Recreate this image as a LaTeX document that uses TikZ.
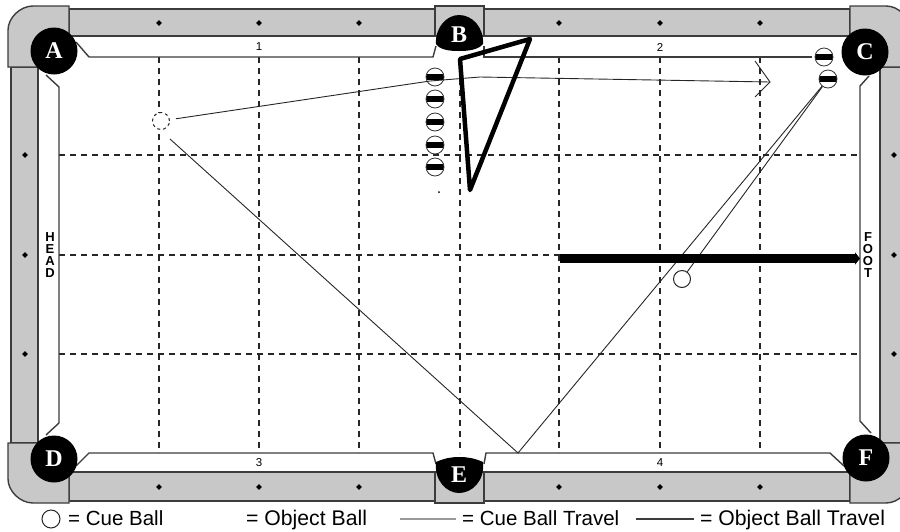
\documentclass[tikz,border=0pt]{standalone}
\usepackage{fontspec}
\setmainfont{Liberation Sans}
\newfontfamily\pocketfont{Liberation Serif}
\usetikzlibrary{arrows.meta,calc,shapes.geometric}
\definecolor{railgray}{HTML}{C8C8C8}
\definecolor{edgegray}{HTML}{3C3C3C}
\tikzset{
  rail/.style={draw=edgegray,line width=1.4pt,fill=railgray},
  cushion/.style={draw=edgegray,line width=1.4pt},
  gridline/.style={black!85,line width=1.25pt,dash pattern=on 6pt off 5pt},
  sight/.style={diamond,fill=black,inner sep=0pt,minimum size=6pt},
  pocket/.style={circle,fill=black,text=white,inner sep=0pt,minimum size=47pt,
    font=\pocketfont\bfseries\fontsize{24}{24}\selectfont},
  letter/.style={text=white,inner sep=0pt,
    font=\pocketfont\bfseries\fontsize{24}{24}\selectfont},
  railnumber/.style={inner sep=0pt,font=\fontsize{11.5}{11.5}\selectfont},
  railword/.style={inner sep=0pt,align=center,font=\bfseries\fontsize{13}{12}\selectfont},
  cueball/.style={circle,draw=black!85,line width=1pt,fill=white,inner sep=0pt,minimum size=17pt},
  objball/.style={circle,draw=black!80,line width=.8pt,fill=white,inner sep=0pt,minimum size=18pt,
    path picture={\fill[black] ($(path picture bounding box.center)+(-10,-2.6)$) rectangle
      ($(path picture bounding box.center)+(10,2.6)$);}},
  cuetravel/.style={black!85,line width=.9pt},
  legend/.style={anchor=base west,inner sep=0pt,font=\fontsize{20.5}{22}\selectfont},
  legendwide/.style={legend,font=\fontsize{21.2}{22}\selectfont},
}
\begin{document}
\begin{tikzpicture}[x=1pt,y=-1pt]
  \clip (0,0) rectangle (900,531);

  \draw[rail] (69,9) rectangle (850,36);
  \draw[rail] (69,472) rectangle (850,501);
  \draw[rail] (11,67) rectangle (38,443);
  \draw[rail] (880,67) rectangle (912,443);

  \draw[rail] (69,6) -- (33,6) .. controls (20,6) and (8,18) .. (8,30) -- (8,67)
    -- (38,67) -- (38,36) -- (69,36) -- cycle;
  \draw[rail] (850,6) -- (886,6) .. controls (899,6) and (910,18) .. (910,30) -- (910,67)
    -- (880,67) -- (880,36) -- (850,36) -- cycle;
  \draw[rail] (69,503) -- (33,503) .. controls (20,503) and (8,491) .. (8,479) -- (8,443)
    -- (38,443) -- (38,472) -- (69,472) -- cycle;
  \draw[rail] (850,503) -- (886,503) .. controls (899,503) and (910,491) .. (910,479) -- (910,443)
    -- (880,443) -- (880,472) -- (850,472) -- cycle;
  \draw[rail] (435,6) rectangle (484,36);
  \draw[rail] (435,472) rectangle (484,503);

  \foreach \x in {159,259,359,559,660,760} {
    \node[sight] (top\x) at (\x,23) {};
    \node[sight] (bot\x) at (\x,487) {};
  }
  \foreach \y in {155,255,354} {
    \node[sight] (left\y) at (25,\y) {};
    \node[sight] (right\y) at (894,\y) {};
  }

  \foreach \x in {159,259,359,460,559,660,760}
    \draw[gridline] (\x,57) -- (\x,453);
  \foreach \y in {155,255,354}
    \draw[gridline] (59,\y) -- (860,\y);

  \draw[cushion] (76,42) -- (89,57) -- (433,57) -- (436,46);
  \draw[cushion] (484,46) -- (484,57) -- (812,57);
  \draw[cushion] (46,75) -- (59,87) -- (59,423) -- (46,435);
  \draw[cushion] (76,466) -- (89,453) -- (433,453) -- (436,464);
  \draw[cushion] (484,464) -- (486,453) -- (830,453) -- (844,466);
  \draw[cushion] (869,76) -- (860,86) -- (860,421) -- (871,433);

  \node[pocket] (A) at (54,51) {A};
  \node[pocket] (C) at (865,52) {C};
  \node[pocket] (D) at (54,459) {D};
  \node[pocket] (F) at (866,458) {F};
  \fill[black] (436,44) .. controls (435,27) and (447,15) .. (459,15)
    .. controls (472,15) and (484,27) .. (483,44)
    .. controls (478,50) and (468,51) .. (459,51)
    .. controls (450,51) and (440,50) .. (436,44) -- cycle;
  \fill[black] (436,462) .. controls (445,458) and (452,457) .. (459,457)
    .. controls (467,457) and (474,458) .. (483,462)
    .. controls (485,481) and (472,493) .. (459,493)
    .. controls (447,493) and (434,481) .. (436,462) -- cycle;
  \node[letter] (B) at (459,35) {B};
  \node[letter] (E) at (459,475) {E};

  \node[railnumber] (one) at (259,47) {1};
  \node[railnumber] (two) at (660,47) {2};
  \node[railnumber] (three) at (259,463) {3};
  \node[railnumber] (four) at (660,463) {4};
  \node[railword] (head) at (50,255) {H\\E\\A\\D};
  \node[railword] (foot) at (868,255) {F\\O\\O\\T};

  \foreach \n/\y in {1/77,2/99,3/122,4/145,5/167}
    \node[objball] (rack\n) at (435,\y) {};
  \node[objball] (cornerA) at (824,57) {};
  \node[objball] (cornerB) at (828,79) {};
  \node[circle,fill=black,inner sep=0pt,minimum size=2pt] (speck) at (439,192) {};

  \node[cueball,dash pattern=on 3pt off 3pt] (cueA) at (161,121) {};
  \node[cueball] (cueB) at (682,279) {};

  \coordinate (bankA) at (518,453);
  \coordinate (passA) at (430,81);
  \coordinate (passB) at (480,77);
  \coordinate (tip) at (770,82);
  \coordinate (barbA) at (755,61);
  \coordinate (barbB) at (755,97);
  \draw[cuetravel,shorten <=6pt] (cueA) -- (passA) -- (passB) -- (tip);
  \draw[cuetravel] (barbA) -- (760,68) -- (tip) -- (barbB);
  \draw[cuetravel] (170,139) -- (bankA) -- (cornerB);
  \draw[cuetravel] (cueB) -- (cornerB);

  \coordinate (triA) at (530,39);
  \coordinate (triB) at (460,59);
  \coordinate (triC) at (470,190);
  \draw[black,line width=4.5pt,line join=round] (triA) -- (triB) -- (triC) -- cycle;

  \coordinate (pathStart) at (560,258.5);
  \coordinate (pathEnd) at (860,258.5);
  \draw[-{Triangle[length=5pt,width=12pt]},black,line width=8.5pt] (pathStart) -- (pathEnd);

  \node[cueball,minimum size=18pt] (keyball) at (51,519) {};
  \node[legend] (keyA) at (68,525) {= Cue Ball};
  \node[legendwide] (keyB) at (246,525) {= Object Ball};
  \coordinate (keyC1) at (400,519);
  \coordinate (keyC2) at (456,519);
  \draw[black!40,line width=1.5pt] (keyC1) -- (keyC2);
  \node[legend] (keyC) at (462,525) {= Cue Ball Travel};
  \coordinate (keyD1) at (636,519);
  \coordinate (keyD2) at (694,519);
  \draw[edgegray,line width=1.5pt] (keyD1) -- (keyD2);
  \node[legendwide] (keyD) at (700,525) {= Object Ball Travel};
\end{tikzpicture}
\end{document}
